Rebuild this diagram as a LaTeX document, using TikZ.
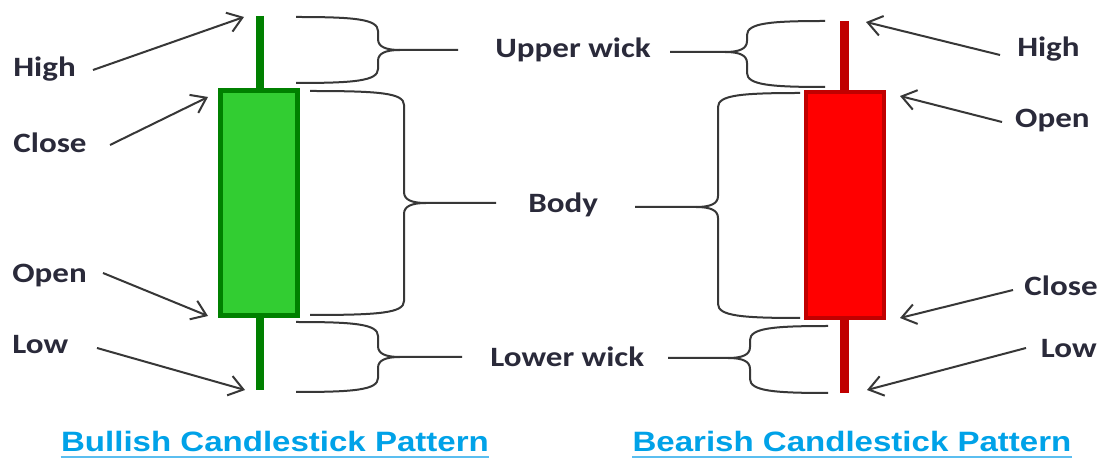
\documentclass[tikz,border=0pt]{standalone}
\usepackage{fontspec}
\setmainfont{Carlito}
\newfontfamily\titlefont{Liberation Sans}
\usetikzlibrary{arrows.meta}
\definecolor{lblc}{RGB}{42,42,58}
\definecolor{dgreen}{RGB}{0,128,0}
\definecolor{lgreen}{RGB}{50,205,50}
\definecolor{dred}{RGB}{192,0,0}
\definecolor{bred}{RGB}{255,0,0}
\definecolor{tblue}{RGB}{0,162,232}
\definecolor{ublue}{RGB}{90,190,240}
\definecolor{lineg}{RGB}{55,55,55}
\newcommand{\sx}[1]{\scalebox{1.18}[1]{#1}}
% x0 yt yb xv ym xt s
\newcommand{\mybrace}[7]{%
 \draw[brc] (#1,#2) .. controls ({#4-(#7)*24},{#2}) and (#4,{#2+2}) .. (#4,{#2+14})
   -- (#4,{#5-11}) .. controls (#4,{#5-3}) and ({#4+(#7)*8},{#5}) .. ({#4+(#7)*22},{#5}) -- (#6,#5);
 \draw[brc] (#1,#3) .. controls ({#4-(#7)*24},{#3}) and (#4,{#3-2}) .. (#4,{#3-14})
   -- (#4,{#5+11}) .. controls (#4,{#5+3}) and ({#4+(#7)*8},{#5}) .. ({#4+(#7)*22},{#5});
}
\begin{document}
\begin{tikzpicture}[x=0.5pt,y=-0.5pt,
  lbl/.style={inner sep=0pt, text=lblc, font=\fontsize{14pt}{16pt}\selectfont\bfseries},
  ttl/.style={inner sep=0pt, text=tblue, font=\titlefont\fontsize{14pt}{16pt}\selectfont\bfseries},
  arr/.style={draw=lineg, line width=1pt, -{Straight Barb[length=7pt,width=10pt]}},
  brc/.style={draw=lineg, line width=1pt, line join=round},
  uline/.style={draw=ublue, line width=0.8pt}]
\useasboundingbox[fill=white] (0,0) rectangle (1102,458);

% bullish candle
\draw[dgreen, line width=4pt] (260,16) -- (260,390);
\filldraw[fill=lgreen, draw=dgreen, line width=2.5pt] (220.5,90.5) rectangle (297.5,315.5);
% bearish candle
\draw[dred, line width=4.5pt] (844,21) -- (844,393);
\filldraw[fill=bred, draw=dred, line width=2pt] (806,92) rectangle (884,318);

% braces
\mybrace{296}{17}{83}{378}{50}{458}{1}
\mybrace{310}{91}{315}{404}{203}{496}{1}
\mybrace{296}{322}{392}{378}{357}{462}{1}
\mybrace{825}{21}{87}{747}{52}{670}{-1}
\mybrace{800}{93}{318}{718}{207}{635}{-1}
\mybrace{828}{326}{393}{750}{358}{668}{-1}

% labels
\node[lbl, anchor=base west] (hi1) at (13,77) {\sx{High}};
\node[lbl, anchor=base west] (cl1) at (13,153) {\sx{Close}};
\node[lbl, anchor=base west] (op1) at (12,283) {\sx{Open}};
\node[lbl, anchor=base west] (lo1) at (12,354) {\sx{Low}};
\node[lbl, anchor=base west] (upw) at (495,58) {\sx{Upper wick}};
\node[lbl, anchor=base west] (bdy) at (528,213) {\sx{Body}};
\node[lbl, anchor=base west] (low) at (490,367) {\sx{Lower wick}};
\node[lbl, anchor=base east] (hi2) at (1080,57) {\sx{High}};
\node[lbl, anchor=base east] (op2) at (1090,128) {\sx{Open}};
\node[lbl, anchor=base east] (cl2) at (1098,296) {\sx{Close}};
\node[lbl, anchor=base east] (lo2) at (1097,358) {\sx{Low}};

% arrow ends
\coordinate (h1s) at (93,70);   \coordinate (h1t) at (244,17);
\coordinate (c1s) at (110,145); \coordinate (c1t) at (208,97);
\coordinate (o1s) at (103,273); \coordinate (o1t) at (208,316);
\coordinate (l1s) at (97,348);  \coordinate (l1t) at (245,390);
\coordinate (h2s) at (1000,55); \coordinate (h2t) at (866,22);
\coordinate (o2s) at (1002,122);\coordinate (o2t) at (900,96);
\coordinate (c2s) at (1013,290);\coordinate (c2t) at (900,318);
\coordinate (l2s) at (1026,348);\coordinate (l2t) at (867,390);
\foreach \a in {h1,c1,o1,l1,h2,o2,c2,l2} \draw[arr] (\a s) -- (\a t);

% titles
\node[ttl, anchor=base] (t1) at (275,452) {\sx{Bullish Candlestick Pattern}};
\node[ttl, anchor=base] (t2) at (852,452) {\sx{Bearish Candlestick Pattern}};
\draw[uline] ([yshift=-2.5pt]t1.base west) -- ([yshift=-2.5pt]t1.base east);
\draw[uline] ([yshift=-2.5pt]t2.base west) -- ([yshift=-2.5pt]t2.base east);
\end{tikzpicture}
\end{document}
